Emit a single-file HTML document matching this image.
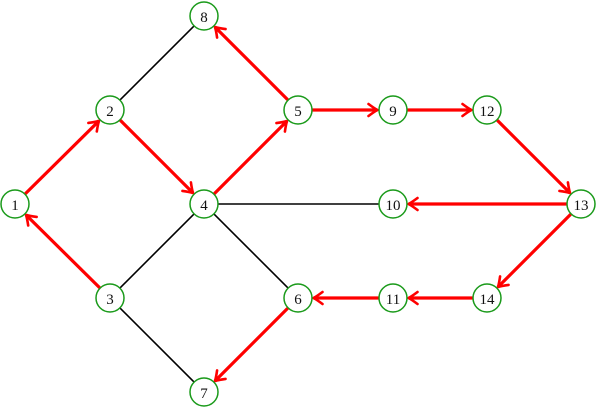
<!DOCTYPE html>
<html><head><meta charset="utf-8"><style>
html,body{margin:0;padding:0;background:#fff;width:600px;height:408px;overflow:hidden}
svg{display:block}
text{font-family:"Liberation Serif",serif;font-size:15px;fill:#111}
</style></head><body>
<svg id="s" width="600" height="408" viewBox="0 0 600 408" xmlns="http://www.w3.org/2000/svg">
<g id="edges"></g>
<g fill="#fff" stroke="#1a9a1a" stroke-width="1.5">
<circle cx="15" cy="204" r="14"/><circle cx="110" cy="110" r="14"/><circle cx="110" cy="298" r="14"/>
<circle cx="204" cy="204" r="14"/><circle cx="298" cy="110" r="14"/><circle cx="298" cy="298" r="14"/>
<circle cx="204" cy="392" r="14"/><circle cx="204" cy="16" r="14"/><circle cx="393" cy="110" r="14"/>
<circle cx="393" cy="204" r="14"/><circle cx="393" cy="298" r="14"/><circle cx="487" cy="110" r="14"/>
<circle cx="581" cy="204" r="14"/><circle cx="487" cy="298" r="14"/>
</g>
<g text-anchor="middle">
<text x="15" y="210">1</text><text x="110" y="116">2</text><text x="110" y="304">3</text>
<text x="204" y="210">4</text><text x="298" y="116">5</text><text x="298" y="304">6</text>
<text x="204" y="398">7</text><text x="204" y="22">8</text><text x="393" y="116">9</text>
<text x="393" y="210">10</text><text x="393" y="304">11</text><text x="487" y="116">12</text>
<text x="581" y="210">13</text><text x="487" y="304">14</text>
</g>
</svg>
<script>
var P={1:[15,204],2:[110,110],3:[110,298],4:[204,204],5:[298,110],6:[298,298],7:[204,392],8:[204,16],9:[393,110],10:[393,204],11:[393,298],12:[487,110],13:[581,204],14:[487,298]};
var g=document.getElementById('edges'),h='';
function ln(a,b,red){var p=P[a],q=P[b],dx=q[0]-p[0],dy=q[1]-p[1],L=Math.hypot(dx,dy),ux=dx/L,uy=dy/L,r=14;
var x1=p[0]+ux*r,y1=p[1]+uy*r,x2=q[0]-ux*r,y2=q[1]-uy*r;
if(!red){h+='<line x1="'+x1+'" y1="'+y1+'" x2="'+x2+'" y2="'+y2+'" stroke="#000" stroke-width="1.6"/>';return;}
var tx=x2-ux*1.5,ty=y2-uy*1.5;
h+='<line x1="'+x1+'" y1="'+y1+'" x2="'+tx+'" y2="'+ty+'" stroke="#f00" stroke-width="3.2"/>';
var nx=-uy,ny=ux,b=9,w=6;
var ax=tx-ux*b+nx*w,ay=ty-uy*b+ny*w,bx=tx-ux*b-nx*w,by=ty-uy*b-ny*w;
var c1x=tx-ux*3+nx*1.5,c1y=ty-uy*3+ny*1.5,c2x=tx-ux*3-nx*1.5,c2y=ty-uy*3-ny*1.5;
h+='<path d="M'+ax+' '+ay+' Q'+c1x+' '+c1y+' '+tx+' '+ty+' Q'+c2x+' '+c2y+' '+bx+' '+by+'" fill="none" stroke="#f00" stroke-width="2.6" stroke-linecap="round" stroke-linejoin="round"/>';}
ln(2,8,0);ln(4,10,0);ln(4,3,0);ln(4,6,0);ln(3,7,0);
ln(1,2,1);ln(3,1,1);ln(2,4,1);ln(4,5,1);ln(5,8,1);ln(5,9,1);ln(9,12,1);ln(12,13,1);ln(13,10,1);ln(13,14,1);ln(14,11,1);ln(11,6,1);ln(6,7,1);
g.innerHTML=h;
</script>
</body></html>
